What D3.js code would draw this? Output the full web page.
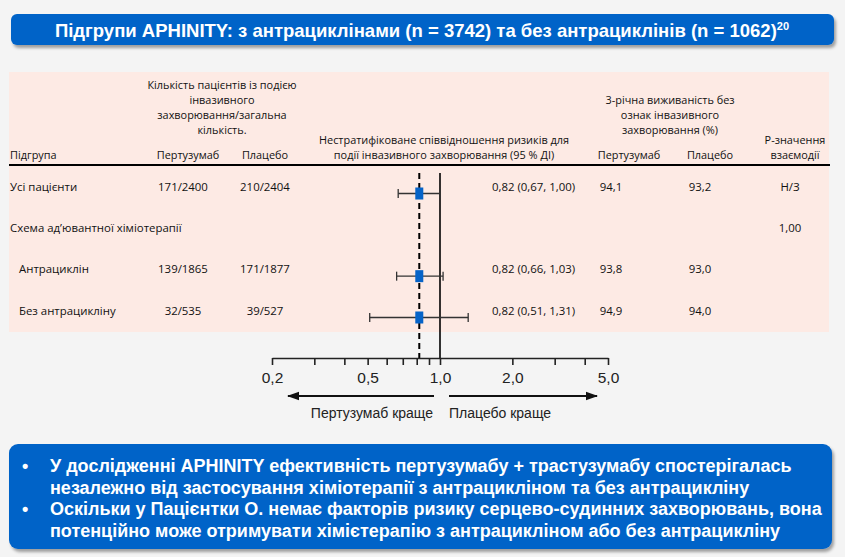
<!DOCTYPE html>
<html>
<head>
<meta charset="utf-8">
<script src="https://cdn.jsdelivr.net/npm/d3@7"></script>
<style>
  body { margin: 0; background: #f4f4f4; }
  svg { display: block; }
</style>
</head>
<body>
<svg id="chart"></svg>
<script>
// ---- data ----
var subgroups = ["Усі пацієнти", "Схема ад’ювантної хіміотерапії", "Антрациклін", "Без антрацикліну"];
var level = [0, 0, 1, 1];
var pertEvents = ["171/2400", "", "139/1865", "32/535"];
var placEvents = ["210/2404", "", "171/1877", "39/527"];
var hr = [0.82, null, 0.82, 0.82];
var ciLow = [0.67, null, 0.66, 0.51];
var ciHigh = [1.00, null, 1.03, 1.31];
var dfsPert = [94.1, null, 93.8, 94.9];
var dfsPlac = [93.2, null, 93.0, 94.0];
var pInteraction = ["Н/З", "1,00", "", ""];
var axisTicks = [0.2, 0.3, 0.4, 0.5, 0.6, 0.7, 0.8, 0.9, 1, 2, 3, 4, 5];
var axisLabels = [0.2, 0.5, 1, 2, 5];
var overallHr = 0.82;

var title = "Підгрупи APHINITY: з антрациклінами (n = 3742) та без антрациклінів (n = 1062)";
var bullets = [
  ["У дослідженні APHINITY ефективність пертузумабу + трастузумабу спостерігалась",
   "незалежно від застосування хіміотерапії з антрацикліном та без антрацикліну"],
  ["Оскільки у Пацієнтки О. немає факторів ризику серцево-судинних захворювань, вона",
   "потенційно може отримувати хімієтерапію з антрацикліном або без антрацикліну"]
];

// ---- layout ----
var W = 845, H = 557;
var blue = "#0563c8", pink = "#fdeae4";
var tableFont = "'Open Sans', sans-serif";
var narrow = "'Liberation Sans Narrow', 'Liberation Sans', sans-serif";

var svg = d3.select("#chart").attr("width", W).attr("height", H);

var defs = svg.append("defs");
var f = defs.append("filter").attr("id", "shadow")
    .attr("x", "-5%").attr("y", "-20%").attr("width", "110%").attr("height", "150%");
f.append("feDropShadow").attr("dx", 2).attr("dy", 3).attr("stdDeviation", 1.5)
    .attr("flood-color", "#000").attr("flood-opacity", 0.35);

function comma(v, p) { return d3.format("." + p + "f")(v).replace(".", ","); }

// title box
svg.append("rect").attr("x", 11).attr("y", 14).attr("width", 823).attr("height", 31)
    .attr("rx", 6).attr("fill", blue).attr("filter", "url(#shadow)");
var t = svg.append("text").attr("x", 422).attr("y", 37).attr("text-anchor", "middle")
    .attr("fill", "#fff").attr("font-family", narrow).attr("font-weight", "bold")
    .attr("font-size", 18.5).text(title);
t.append("tspan").attr("font-size", 11).attr("dy", -7).text("20");

// pink table area
svg.append("rect").attr("x", 9).attr("y", 72).attr("width", 820).attr("height", 260).attr("fill", pink);

var col = { sub: 10, pert: 183, plac: 265, hrTxt: 492, dfsP: 611, dfsPl: 700, p: 790 };

var head = svg.append("g").attr("font-family", tableFont).attr("font-size", 10.9)
    .attr("fill", "#111").attr("text-anchor", "middle");

function lines(g, x, y0, arr, anchor) {
  arr.forEach(function(s, i) {
    g.append("text").attr("x", x).attr("y", y0 + i * 15)
      .attr("text-anchor", anchor || "middle").text(s);
  });
}
lines(head, 222, 89, ["Кількість пацієнтів із подією", "інвазивного", "захворювання/загальна", "кількість."]);
lines(head, col.sub, 159, ["Підгрупа"], "start");
lines(head, 188, 159, ["Пертузумаб"]);
lines(head, 265, 159, ["Плацебо"]);
lines(head, 444, 144, ["Нестратифіковане співвідношення ризиків для", "події інвазивного захворювання (95 % ДІ)"]);
lines(head, 670, 104, ["3-річна виживаність без", "ознак інвазивного", "захворювання (%)"]);
lines(head, 629, 159, ["Пертузумаб"]);
lines(head, 710, 159, ["Плацебо"]);
lines(head, 795, 144, ["Р-значення", "взаємодії"]);

svg.append("line").attr("x1", 9).attr("x2", 830).attr("y1", 165).attr("y2", 165)
    .attr("stroke", "#000").attr("stroke-width", 2);

// rows
var rowY = d3.scalePoint().domain(d3.range(subgroups.length)).range([190.5, 314.5]);

var rows = svg.append("g").attr("font-family", tableFont).attr("font-size", 11.4).attr("fill", "#111")
  .selectAll("g").data(subgroups).join("g")
    .attr("transform", function(d, i) { return "translate(0," + rowY(i) + ")"; });

rows.append("text").attr("x", function(d, i) { return col.sub + level[i] * 9; }).text(function(d) { return d; });
rows.append("text").attr("x", col.pert).attr("text-anchor", "middle").text(function(d, i) { return pertEvents[i]; });
rows.append("text").attr("x", col.plac).attr("text-anchor", "middle").text(function(d, i) { return placEvents[i]; });
rows.append("text").attr("x", col.hrTxt).text(function(d, i) {
  return hr[i] == null ? "" : comma(hr[i], 2) + " (" + comma(ciLow[i], 2) + ", " + comma(ciHigh[i], 2) + ")";
});
rows.append("text").attr("x", col.dfsP).attr("text-anchor", "middle").text(function(d, i) { return dfsPert[i] == null ? "" : comma(dfsPert[i], 1); });
rows.append("text").attr("x", col.dfsPl).attr("text-anchor", "middle").text(function(d, i) { return dfsPlac[i] == null ? "" : comma(dfsPlac[i], 1); });
rows.append("text").attr("x", col.p).attr("text-anchor", "middle").text(function(d, i) { return pInteraction[i]; });

// forest plot
var x = d3.scaleLog().domain([0.2, 5]).range([272, 608]);
var axisY = 358;

var fp = svg.append("g");
fp.append("line").attr("x1", x(overallHr)).attr("x2", x(overallHr)).attr("y1", 173).attr("y2", axisY)
    .attr("stroke", "#000").attr("stroke-width", 2).attr("stroke-dasharray", "6,4");
fp.append("line").attr("x1", x(1)).attr("x2", x(1)).attr("y1", 173).attr("y2", axisY)
    .attr("stroke", "#000").attr("stroke-width", 1.6);

var idx = d3.range(subgroups.length).filter(function(i) { return hr[i] != null; });
var markY = function(i) { return rowY(i) + 3; };
var ci = fp.selectAll("g.ci").data(idx).join("g").attr("class", "ci")
    .attr("stroke", "#333").attr("stroke-width", 1.3);
ci.append("line").attr("x1", function(i) { return x(ciLow[i]); }).attr("x2", function(i) { return x(ciHigh[i]); })
    .attr("y1", markY).attr("y2", markY);
ci.append("line").attr("x1", function(i) { return x(ciLow[i]); }).attr("x2", function(i) { return x(ciLow[i]); })
    .attr("y1", function(i) { return markY(i) - 4.5; }).attr("y2", function(i) { return markY(i) + 4.5; });
ci.append("line").attr("x1", function(i) { return x(ciHigh[i]); }).attr("x2", function(i) { return x(ciHigh[i]); })
    .attr("y1", function(i) { return markY(i) - 4.5; }).attr("y2", function(i) { return markY(i) + 4.5; });
fp.selectAll("rect.hr").data(idx).join("rect").attr("class", "hr")
    .attr("x", function(i) { return x(hr[i]) - 4; }).attr("y", function(i) { return markY(i) - 6; })
    .attr("width", 8).attr("height", 12).attr("fill", blue);

// axis
var axis = d3.axisBottom(x).tickValues(axisTicks).tickSize(7).tickSizeOuter(0)
    .tickFormat(function(d) { return axisLabels.indexOf(d) >= 0 ? comma(d, 1) : ""; });
var ag = svg.append("g").attr("transform", "translate(0," + axisY + ")").call(axis);
ag.select(".domain").attr("stroke", "#222").attr("stroke-width", 1.6);
ag.selectAll(".tick line").attr("stroke", "#222").attr("stroke-width", 1.6);
ag.selectAll(".tick text").attr("font-family", "'Liberation Sans', Arial, sans-serif")
    .attr("font-size", 15.5).attr("fill", "#222").attr("dy", "0.95em");

// arrows
defs.append("marker").attr("id", "head").attr("viewBox", "0 0 10 10").attr("refX", 9).attr("refY", 5)
    .attr("markerWidth", 7).attr("markerHeight", 7).attr("orient", "auto-start-reverse")
    .append("path").attr("d", "M0,1.5L10,5L0,8.5Z").attr("fill", "#111");
svg.append("line").attr("x1", x(1) - 6).attr("x2", 288).attr("y1", 396).attr("y2", 396)
    .attr("stroke", "#111").attr("stroke-width", 1.8).attr("marker-end", "url(#head)");
svg.append("line").attr("x1", x(1) + 9).attr("x2", 597).attr("y1", 396).attr("y2", 396)
    .attr("stroke", "#111").attr("stroke-width", 1.8).attr("marker-end", "url(#head)");
var lab = svg.append("g").attr("font-family", "'Liberation Sans', Arial, sans-serif").attr("font-size", 14).attr("fill", "#222");
lab.append("text").attr("x", 433).attr("y", 418).attr("text-anchor", "end").text("Пертузумаб краще");
lab.append("text").attr("x", 449).attr("y", 418).text("Плацебо краще");

// bottom box
svg.append("rect").attr("x", 9).attr("y", 444).attr("width", 823).attr("height", 105)
    .attr("rx", 9).attr("fill", blue).attr("filter", "url(#shadow)");
var bt = svg.append("g").attr("fill", "#fff").attr("font-family", narrow).attr("font-weight", "bold").attr("font-size", 18);
bullets.forEach(function(b, i) {
  var y0 = 472 + i * 43;
  bt.append("text").attr("x", 22).attr("y", y0).text("•");
  b.forEach(function(s, j) {
    bt.append("text").attr("x", 50).attr("y", y0 + j * 21.5).text(s);
  });
});
</script>
</body>
</html>
